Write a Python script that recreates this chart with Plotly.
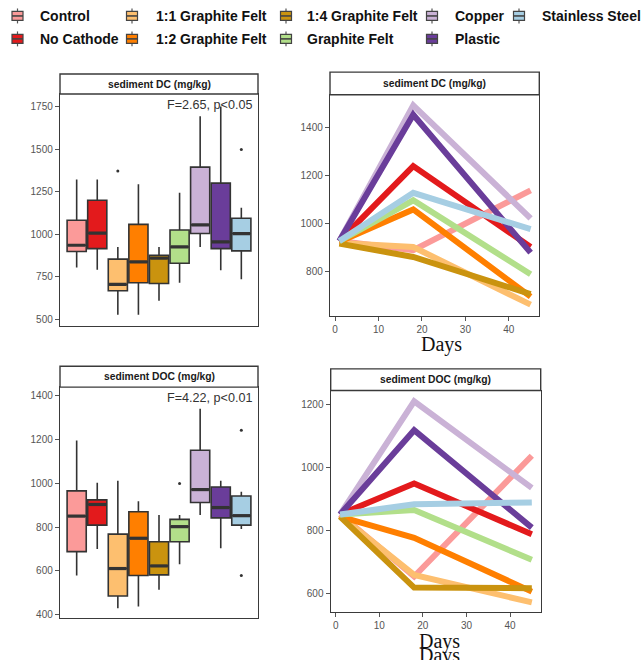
import plotly.graph_objects as go

W, H = 643, 660

# ---------------- data ----------------
groups = ["Control", "No Cathode", "1:1 Graphite Felt", "1:2 Graphite Felt",
          "1:4 Graphite Felt", "Graphite Felt", "Copper", "Plastic", "Stainless Steel"]
colors = ["#FB9A99", "#E31A1C", "#FDBF6F", "#FF7F00", "#CA930F",
          "#B2DF8A", "#CAB2D6", "#6A3D9A", "#A6CEE3"]

# sediment DC box stats: lower whisker, Q1, median, Q3, upper whisker
dc_low = [804, 790, 526, 526, 608, 714, 925, 788, 735]
dc_q1 = [898, 915, 667, 714, 710, 829, 1004, 915, 902]
dc_med = [935, 1006, 704, 837, 859, 925, 1055, 955, 1004]
dc_q3 = [1082, 1200, 853, 1058, 876, 1025, 1395, 1301, 1094]
dc_high = [1323, 1323, 925, 1294, 925, 1245, 1695, 1752, 1156]
dc_out_group = ["1:1 Graphite Felt", "Stainless Steel"]
dc_out_val = [1372, 1499]

# sediment DOC box stats
doc_low = [579, 700, 430, 438, 514, 630, 855, 703, 791]
doc_q1 = [688, 809, 486, 579, 582, 733, 912, 842, 809]
doc_med = [850, 903, 611, 749, 623, 802, 971, 889, 852]
doc_q3 = [965, 924, 768, 870, 733, 835, 1150, 983, 942]
doc_high = [1195, 1002, 1011, 918, 855, 855, 1339, 1011, 961]
doc_out_group = ["Graphite Felt", "Stainless Steel", "Stainless Steel"]
doc_out_val = [999, 1241, 579]

days = [1, 18, 45]
dc_time = {
    "Control": [928, 890, 1138],
    "No Cathode": [928, 1239, 903],
    "1:1 Graphite Felt": [920, 903, 664],
    "1:2 Graphite Felt": [925, 1059, 697],
    "1:4 Graphite Felt": [917, 862, 708],
    "Graphite Felt": [928, 1097, 790],
    "Copper": [928, 1491, 1022],
    "Plastic": [928, 1452, 880],
    "Stainless Steel": [928, 1128, 977],
}
doc_time = {
    "Control": [852, 655, 1038],
    "No Cathode": [852, 950, 789],
    "1:1 Graphite Felt": [848, 660, 573],
    "1:2 Graphite Felt": [845, 778, 607],
    "1:4 Graphite Felt": [845, 620, 618],
    "Graphite Felt": [852, 866, 708],
    "Copper": [852, 1211, 936],
    "Plastic": [852, 1119, 810],
    "Stainless Steel": [852, 884, 890],
}

dc_ticks = [500, 750, 1000, 1250, 1500, 1750]
doc_ticks = [400, 600, 800, 1000, 1200, 1400]
dc_line_ticks = [800, 1000, 1200, 1400]
doc_line_ticks = [600, 800, 1000, 1200]
day_ticks = [0, 10, 20, 30, 40]

# ---------------- helpers ----------------
def px(x):
    return x / W

def py(y):
    return 1 - y / H

fig = go.Figure()
BORDER = "#3a3a3a"
TICKC = "#555555"
BOXW = 0.93
pos = list(range(len(groups)))

def add_boxes(xa, ya, low, q1, med, q3, high, og, ov):
    for i, g in enumerate(groups):
        fig.add_trace(go.Box(
            x=[pos[i]], lowerfence=[low[i]], q1=[q1[i]], median=[med[i]],
            q3=[q3[i]], upperfence=[high[i]], width=BOXW, whiskerwidth=0,
            fillcolor=colors[i], line=dict(color="#333333", width=1.6),
            boxpoints=False, showlegend=False, xaxis=xa, yaxis=ya, name=g,
            hoverinfo="skip"))
        # thicker median
        fig.add_trace(go.Scatter(
            x=[pos[i] - BOXW / 2 + 0.04, pos[i] + BOXW / 2 - 0.04], y=[med[i], med[i]],
            mode="lines", line=dict(color="#333333", width=3.2),
            showlegend=False, xaxis=xa, yaxis=ya, hoverinfo="skip"))
    fig.add_trace(go.Scatter(
        x=[groups.index(g) for g in og], y=ov, mode="markers",
        marker=dict(color="#333333", size=3), showlegend=False,
        xaxis=xa, yaxis=ya, hoverinfo="skip"))

def add_lines(xa, ya, data):
    for i, g in enumerate(groups):
        fig.add_trace(go.Scatter(
            x=days, y=data[g], mode="lines",
            line=dict(color=colors[i], width=6), showlegend=False,
            xaxis=xa, yaxis=ya, hoverinfo="skip"))

add_boxes("x", "y", dc_low, dc_q1, dc_med, dc_q3, dc_high, dc_out_group, dc_out_val)
add_lines("x2", "y2", dc_time)
add_boxes("x3", "y3", doc_low, doc_q1, doc_med, doc_q3, doc_high, doc_out_group, doc_out_val)
add_lines("x4", "y4", doc_time)

panels = {
    # name: (x0, x1, ytop, ybottom, striptop)
    1: (60, 258, 94.3, 326.7, 74.3),
    2: (330, 539.3, 95, 316.7, 72.3),
    3: (60, 258, 388.3, 620, 367.3),
    4: (330.7, 540.7, 391.7, 614, 370),
}

axis_common = dict(showgrid=False, zeroline=False, showline=True, mirror=True,
                   linecolor=BORDER, linewidth=1.4,
                   tickfont=dict(family="Liberation Sans, Arial", size=10, color=TICKC))

def setax(n, xr, yr, yt, xt=None):
    x0, x1, yt_, yb, st = panels[n]
    xk = "xaxis" if n == 1 else f"xaxis{n}"
    yk = "yaxis" if n == 1 else f"yaxis{n}"
    xa = dict(axis_common, domain=[px(x0), px(x1)], range=xr,
              anchor="y" if n == 1 else f"y{n}")
    if xt is None:
        xa.update(showticklabels=False, ticks="")
    else:
        xa.update(tickvals=xt, ticks="outside", ticklen=4, tickcolor=TICKC, tickwidth=1)
    ya = dict(axis_common, domain=[py(yb), py(yt_)], range=yr,
              anchor="x" if n == 1 else f"x{n}",
              tickvals=yt, ticks="outside", ticklen=4, tickcolor=TICKC, tickwidth=1)
    fig.update_layout({xk: xa, yk: ya})

setax(1, [-0.81, 8.81], [461, 1826], dc_ticks)
setax(2, [-1.15, 47], [618, 1535], dc_line_ticks, day_ticks)
setax(3, [-0.81, 8.81], [385, 1438], doc_ticks)
setax(4, [-1.15, 47.04], [542, 1245], doc_line_ticks, day_ticks)

shapes = []
annotations = []
strip_titles = {1: "sediment DC (mg/kg)", 2: "sediment DC (mg/kg)",
                3: "sediment DOC (mg/kg)", 4: "sediment DOC (mg/kg)"}
for n, (x0, x1, yt_, yb, st) in panels.items():
    shapes.append(dict(type="rect", xref="paper", yref="paper",
                       x0=px(x0), x1=px(x1), y0=py(yt_), y1=py(st),
                       fillcolor="white", line=dict(color=BORDER, width=1.4)))
    annotations.append(dict(xref="paper", yref="paper", x=px((x0 + x1) / 2),
                            y=py((yt_ + st) / 2), text=f"<b>{strip_titles[n]}</b>",
                            showarrow=False, xanchor="center", yanchor="middle",
                            font=dict(family="Liberation Sans, Arial", size=10.3,
                                      color="#1a1a1a")))

# statistic labels
for txt, yy in [("F=2.65, p<0.05", 105.7), ("F=4.22, p<0.01", 399.3)]:
    annotations.append(dict(xref="paper", yref="paper", x=px(254), y=py(yy),
                            text=txt, showarrow=False, xanchor="right", yanchor="middle",
                            font=dict(family="Liberation Sans, Arial", size=12.6,
                                      color="#333333")))

# Days titles (the reference shows a doubled, clipped second "Days" at the bottom)
for xx, yy in [(441, 345.5), (440, 643), (440, 657)]:
    annotations.append(dict(xref="paper", yref="paper", x=px(xx), y=py(yy),
                            text="Days", showarrow=False, xanchor="center",
                            yanchor="middle",
                            font=dict(family="Liberation Serif, Times New Roman",
                                      size=20, color="#111111")))

# legend (column-major, like the reference)
leg_cols = [(17.5, 38), (132, 154), (286, 305), (432, 453), (519, 540)]
leg_rows = [16, 39]
for i, g in enumerate(groups):
    c, r = divmod(i, 2)
    cx, tx = leg_cols[c]
    cy = leg_rows[r]
    shapes.append(dict(type="line", xref="paper", yref="paper",
                       x0=px(cx), x1=px(cx), y0=py(cy - 7.5), y1=py(cy + 7.5),
                       line=dict(color="#555555", width=1.2)))
    shapes.append(dict(type="rect", xref="paper", yref="paper",
                       x0=px(cx - 5.5), x1=px(cx + 5.5), y0=py(cy - 4.5), y1=py(cy + 4.5),
                       fillcolor=colors[i], line=dict(color="#444444", width=1.2)))
    shapes.append(dict(type="line", xref="paper", yref="paper",
                       x0=px(cx - 5.5), x1=px(cx + 5.5), y0=py(cy), y1=py(cy),
                       line=dict(color="#444444", width=1.6)))
    annotations.append(dict(xref="paper", yref="paper", x=px(tx), y=py(cy),
                            text=f"<b>{g}</b>", showarrow=False, xanchor="left",
                            yanchor="middle",
                            font=dict(family="Liberation Sans, Arial", size=14,
                                      color="#111111")))

fig.update_layout(
    width=W, height=H, margin=dict(l=0, r=0, t=0, b=0),
    paper_bgcolor="white", plot_bgcolor="white",
    shapes=shapes, annotations=annotations, showlegend=False,
)

fig.write_html("out.html")
